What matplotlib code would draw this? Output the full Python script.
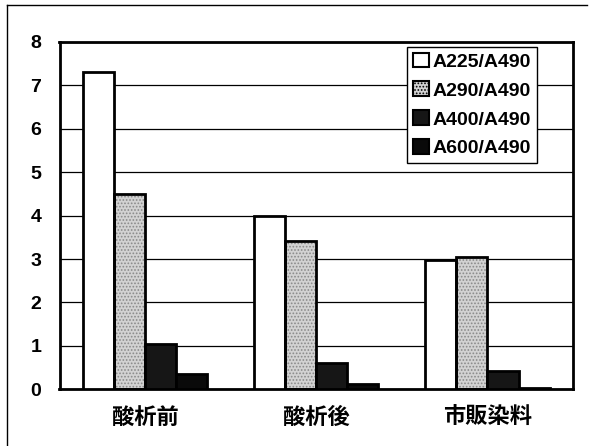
import numpy as np
import matplotlib.pyplot as plt
from matplotlib.lines import Line2D

plt.rcParams['font.family'] = ['Liberation Sans', 'Noto Sans CJK JP', 'DejaVu Sans']

# absorbance ratios for each sample
categories = ['酸析前', '酸析後', '市販染料']
series_names = ['A225/A490', 'A290/A490', 'A400/A490', 'A600/A490']
a225 = [7.3, 4.0, 2.97]
a290 = [4.5, 3.41, 3.05]
a400 = [1.05, 0.6, 0.43]
a600 = [0.36, 0.12, 0.03]
values = [a225, a290, a400, a600]

fig = plt.figure(figsize=(5.95, 4.46), dpi=100)
ax = fig.add_axes([59.5 / 595, 1 - 389.3 / 446, (573 - 59.5) / 595, (389.3 - 42) / 446])

x = np.arange(len(categories))
w = 1 / 5.5
offsets = (np.arange(4) - 1.5) * w

# white / stippled grey / dark / black
faces = ['white', '#d2d2d2', '#161616', '#0a0a0a']
handles = []
for i, (vals, name) in enumerate(zip(values, series_names)):
    if i == 1:
        plt.rcParams['hatch.color'] = '#8a8a8a'
        plt.rcParams['hatch.linewidth'] = 0.8
        ax.bar(x + offsets[i], vals, w, color=faces[i], hatch='.....',
               edgecolor='#8a8a8a', linewidth=0, zorder=2)
        ax.bar(x + offsets[i], vals, w, fill=False, edgecolor='black',
               linewidth=2, zorder=3)
    else:
        ax.bar(x + offsets[i], vals, w, color=faces[i], edgecolor='black',
               linewidth=2, zorder=3)
    handles.append(plt.Rectangle((0, 0), 1, 1, facecolor=faces[i],
                                 edgecolor='black', linewidth=1.5,
                                 hatch='.....' if i == 1 else None))

ax.set_xlim(-0.5, 2.5)
ax.set_ylim(0, 8)
ax.set_yticks(range(0, 9))
ax.set_xticks(x)
ax.set_xticklabels(categories, fontsize=16, fontweight='bold',
                   family=['Noto Sans CJK JP'])
for lbl in ax.get_yticklabels():
    lbl.set_fontsize(14)
    lbl.set_fontweight('bold')
ax.tick_params(axis='y', length=0, pad=13)
ax.tick_params(axis='x', length=0, pad=12)

ax.yaxis.grid(True, color='black', linewidth=0.9)
ax.set_axisbelow(True)
for s in ax.spines.values():
    s.set_linewidth(2)
    s.set_color('black')

leg = ax.legend(handles, series_names, loc='upper right',
                bbox_to_anchor=(536.7 / 595, 1 - 46.7 / 446),
                bbox_transform=fig.transFigure, borderaxespad=0,
                fancybox=False, framealpha=1, edgecolor='black',
                handlelength=0.8, handleheight=0.8, handletextpad=0.2,
                borderpad=0.3, labelspacing=0.55,
                prop={'size': 14, 'weight': 'bold'})
leg.get_frame().set_linewidth(1.0)

# chart area border (left and top edges)
fig.add_artist(Line2D([7 / 595, 7 / 595], [0, 1 - 5 / 446], color='black', linewidth=1))
fig.add_artist(Line2D([7 / 595, 587 / 595], [1 - 5 / 446, 1 - 5 / 446], color='black', linewidth=1))

fig.savefig('out.png', dpi=100)
